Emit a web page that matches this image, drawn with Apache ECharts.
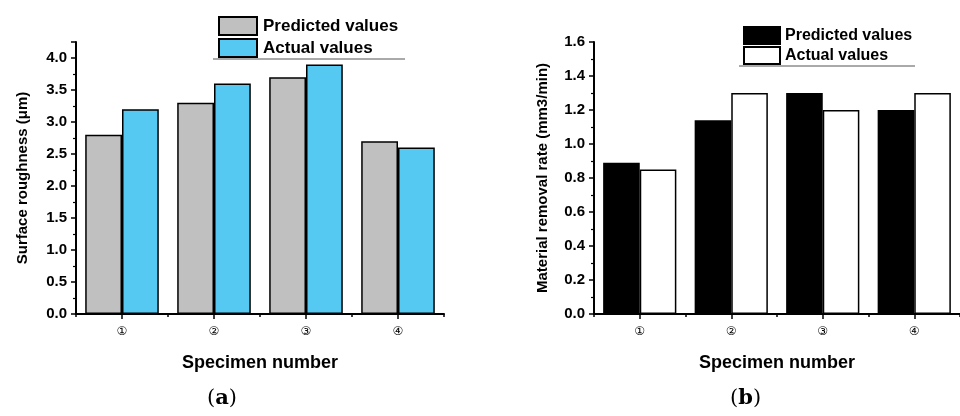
<!DOCTYPE html>
<html>
<head>
<meta charset="utf-8">
<script src="https://cdn.jsdelivr.net/npm/echarts@6/dist/echarts.min.js"></script>
<style>html,body{margin:0;padding:0;background:#fff;}#c{width:960px;height:416px;}</style>
</head>
<body>
<div id="c"></div>
<script>
const categories = ['①', '②', '③', '④'];
const roughPredicted = [2.8, 3.3, 3.7, 2.7];
const roughActual = [3.2, 3.6, 3.9, 2.6];
const mrrPredicted = [0.89, 1.14, 1.3, 1.2];
const mrrActual = [0.85, 1.3, 1.2, 1.3];
const roughTicks = { min: 0, max: 4.25, interval: 0.5 };
const mrrTicks = { min: 0, max: 1.6, interval: 0.2 };

const FONT = 'Liberation Sans, Arial, sans-serif';
const chart = echarts.init(document.getElementById('c'), null, { renderer: 'canvas' });

function xAxisMain(gi, name) {
  return {
    type: 'category', gridIndex: gi, data: categories,
    boundaryGap: true,
    axisLine: { show: true, lineStyle: { color: '#000', width: 2 } },
    axisTick: { show: true, alignWithLabel: true, inside: false, length: 5, lineStyle: { color: '#000', width: 1.5 } },
    axisLabel: { fontSize: 12, color: '#000', margin: 12, fontFamily: 'DejaVu Sans, sans-serif' },
    name: name, nameLocation: 'middle', nameGap: 40,
    nameTextStyle: { fontSize: 18, fontWeight: 'bold', color: '#000', fontFamily: FONT },
    splitLine: { show: false }
  };
}
function xAxisMinor(gi) {
  return {
    type: 'category', gridIndex: gi, data: categories,
    boundaryGap: true, position: 'bottom',
    axisLine: { show: false },
    axisTick: { show: true, alignWithLabel: false, interval: 0, length: 3, lineStyle: { color: '#000', width: 1.5 } },
    axisLabel: { show: false }, splitLine: { show: false }
  };
}
function yAxis(gi, name, t, gap) {
  const onTick = Math.abs(t.max / t.interval - Math.round(t.max / t.interval)) < 1e-9;
  return {
    type: 'value', gridIndex: gi, min: t.min, max: t.max, interval: t.interval,
    axisLine: { show: true, lineStyle: { color: '#000', width: 2 } },
    axisTick: { show: true, length: 5, lineStyle: { color: '#000', width: 1.5 } },
    minorTick: { show: true, splitNumber: 2, length: 3, lineStyle: { color: '#000', width: 1.2 } },
    axisLabel: { fontSize: 15, fontWeight: 'bold', color: '#000', fontFamily: FONT, margin: 9, showMaxLabel: onTick,
      formatter: v => v.toFixed(1) },
    splitLine: { show: false },
    name: name, nameLocation: 'middle', nameGap: gap, nameRotate: 90,
    nameTextStyle: { fontSize: 15, fontWeight: 'bold', color: '#000', fontFamily: FONT }
  };
}

const barBase = { type: 'bar', barGap: '0%', barCategoryGap: '20%' };

chart.setOption({
  animation: false,
  backgroundColor: '#fff',
  grid: [
    { left: 76, top: 42, width: 368, height: 272 },
    { left: 594, top: 42, width: 368, height: 272 }
  ],
  legend: [
    { orient: 'vertical', left: 218, top: 16, padding: 0, icon: 'rect', itemWidth: 38, itemHeight: 18, itemGap: 2,
      data: ['Predicted values', 'Actual values'], selectedMode: false,
      textStyle: { fontSize: 17, fontWeight: 'bold', color: '#000', fontFamily: FONT, padding: [0, 0, 0, 1] } },
    { orient: 'vertical', left: 743, top: 26, padding: 0, icon: 'rect', itemWidth: 36, itemHeight: 17, itemGap: 1,
      data: ['Predicted values (b)', 'Actual values (b)'], selectedMode: false,
      formatter: n => n.replace(' (b)', ''),
      textStyle: { fontSize: 16, fontWeight: 'bold', color: '#000', fontFamily: FONT, padding: [0, 0, 0, 0] } }
  ],
  title: [
    { text: '({a|a})', left: 207, top: 388, padding: 0,
      textStyle: { fontSize: 21, fontWeight: 'normal', color: '#000', fontFamily: 'DejaVu Serif, serif',
        rich: { a: { fontSize: 21, fontWeight: 'bold', fontFamily: 'DejaVu Serif, serif', color: '#000' } } } },
    { text: '({a|b})', left: 730, top: 388, padding: 0,
      textStyle: { fontSize: 21, fontWeight: 'normal', color: '#000', fontFamily: 'DejaVu Serif, serif',
        rich: { a: { fontSize: 21, fontWeight: 'bold', fontFamily: 'DejaVu Serif, serif', color: '#000' } } } }
  ],
  xAxis: [xAxisMain(0, 'Specimen number'), xAxisMinor(0), xAxisMain(1, 'Specimen number'), xAxisMinor(1)],
  yAxis: [yAxis(0, 'Surface roughness (μm)', roughTicks, 46), yAxis(1, 'Material removal rate (mm3/min)', mrrTicks, 44)],
  series: [
    Object.assign({}, barBase, { name: 'Predicted values', xAxisIndex: 0, yAxisIndex: 0, data: roughPredicted,
      itemStyle: { color: '#c0c0c0', borderColor: '#000', borderWidth: 1.5 } }),
    Object.assign({}, barBase, { name: 'Actual values', xAxisIndex: 0, yAxisIndex: 0, data: roughActual,
      itemStyle: { color: '#55c9f1', borderColor: '#000', borderWidth: 1.5 } }),
    Object.assign({}, barBase, { name: 'Predicted values (b)', xAxisIndex: 2, yAxisIndex: 1, data: mrrPredicted,
      itemStyle: { color: '#000', borderColor: '#000', borderWidth: 1.5 } }),
    Object.assign({}, barBase, { name: 'Actual values (b)', xAxisIndex: 2, yAxisIndex: 1, data: mrrActual,
      itemStyle: { color: '#fff', borderColor: '#000', borderWidth: 1.5 } })
  ],
  graphic: [
    { type: 'line', shape: { x1: 213, y1: 59, x2: 405, y2: 59 }, style: { stroke: '#555', lineWidth: 1 } },
    { type: 'line', shape: { x1: 739, y1: 66, x2: 915, y2: 66 }, style: { stroke: '#555', lineWidth: 1 } }
  ]
});
</script>
</body>
</html>
